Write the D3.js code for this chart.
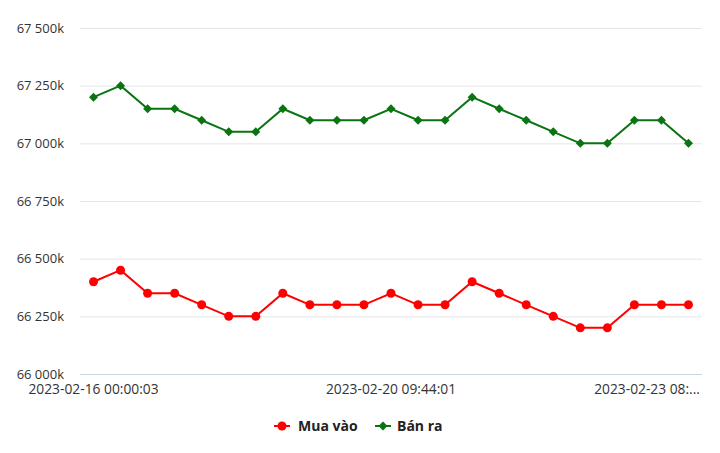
<!DOCTYPE html>
<html><head><meta charset="utf-8">
<script src="https://cdn.jsdelivr.net/npm/d3@7"></script>
<style>body{margin:0;background:#fff}svg{display:block}</style>
</head><body>
<svg id="c" width="720" height="453"></svg>
<script>
const categories = ["2023-02-16 00:00:03","c1","c2","c3","c4","c5","c6","c7","c8","c9","c10","2023-02-20 09:44:01","c12","c13","c14","c15","c16","c17","c18","c19","c20","c21","2023-02-23 08:..."];
const muaVao = [66400,66450,66350,66350,66300,66250,66250,66350,66300,66300,66300,66350,66300,66300,66400,66350,66300,66250,66200,66200,66300,66300,66300];
const banRa  = [67200,67250,67150,67150,67100,67050,67050,67150,67100,67100,67100,67150,67100,67100,67200,67150,67100,67050,67000,67000,67100,67100,67000];
const yTicks = [66000,66250,66500,66750,67000,67250,67500];
const labelIdx = [0,11,22];
const seriesNames = ["Mua vào","Bán ra"];

const svg = d3.select("#c");
const L=80,R=702,T=28,B=374;
const x = d3.scaleBand().domain(d3.range(categories.length)).range([L,R]);
const cx = i => x(i)+x.bandwidth()/2;
const y = d3.scaleLinear().domain([66000,67500]).range([B,T]);
const font = "'Open Sans', sans-serif";
const fmt = v => d3.format(",")(v).replace(",", " ") + "k";

const g = svg.append("g");
g.selectAll("line.grid").data(yTicks.filter(v=>v!==66000)).join("line")
  .attr("x1",L).attr("x2",R).attr("y1",d=>y(d)+0.5).attr("y2",d=>y(d)+0.5)
  .attr("stroke","#e6e6e6").attr("stroke-width",1);
g.append("line").attr("x1",L).attr("x2",R).attr("y1",B+0.5).attr("y2",B+0.5).attr("stroke","#ccd6eb");
g.selectAll("text.yl").data(yTicks).join("text")
  .attr("x",64).attr("y",d=>y(d)+4.5).attr("text-anchor","end")
  .attr("font-family",font).attr("font-size",13).attr("fill","#333")
  .text(fmt);

// x labels
labelIdx.forEach((i,k)=>{
  const t = g.append("text").attr("y",394).attr("font-family",font).attr("font-size",13.8).attr("fill","#333").text(categories[i]);
  if(k===labelIdx.length-1){ t.attr("x",700).attr("text-anchor","end"); }
  else t.attr("x",cx(i)).attr("text-anchor","middle");
});

const line = d3.line().x((d,i)=>cx(i)).y(d=>y(d));
const red="#ff0000", green="#0a7312";
g.append("path").datum(muaVao).attr("d",line).attr("fill","none").attr("stroke",red).attr("stroke-width",2);
g.append("path").datum(banRa).attr("d",line).attr("fill","none").attr("stroke",green).attr("stroke-width",2);
g.selectAll("circle.m").data(muaVao).join("circle").attr("cx",(d,i)=>cx(i)).attr("cy",d=>y(d)).attr("r",4.5).attr("fill",red);
const dia = s => `M0,${-s}L${s},0L0,${s}L${-s},0Z`;
g.selectAll("path.b").data(banRa).join("path").attr("d",dia(4.5)).attr("transform",(d,i)=>`translate(${cx(i)},${y(d)})`).attr("fill",green);

// legend
const lg = svg.append("g");
lg.append("line").attr("x1",274).attr("x2",290).attr("y1",426).attr("y2",426).attr("stroke",red).attr("stroke-width",2);
lg.append("circle").attr("cx",282).attr("cy",426).attr("r",4.5).attr("fill",red);
lg.append("text").attr("x",298).attr("y",431).attr("font-family","'Liberation Sans Narrow','Open Sans',sans-serif").attr("font-weight","bold").attr("font-size",14).attr("fill","#222").text(seriesNames[0]);
lg.append("line").attr("x1",375).attr("x2",391).attr("y1",426).attr("y2",426).attr("stroke",green).attr("stroke-width",2);
lg.append("path").attr("d",dia(4.5)).attr("transform","translate(383,426)").attr("fill",green);
lg.append("text").attr("x",397).attr("y",431).attr("font-family","'Liberation Sans Narrow','Open Sans',sans-serif").attr("font-weight","bold").attr("font-size",14).attr("fill","#222").text(seriesNames[1]);
</script>
</body></html>
